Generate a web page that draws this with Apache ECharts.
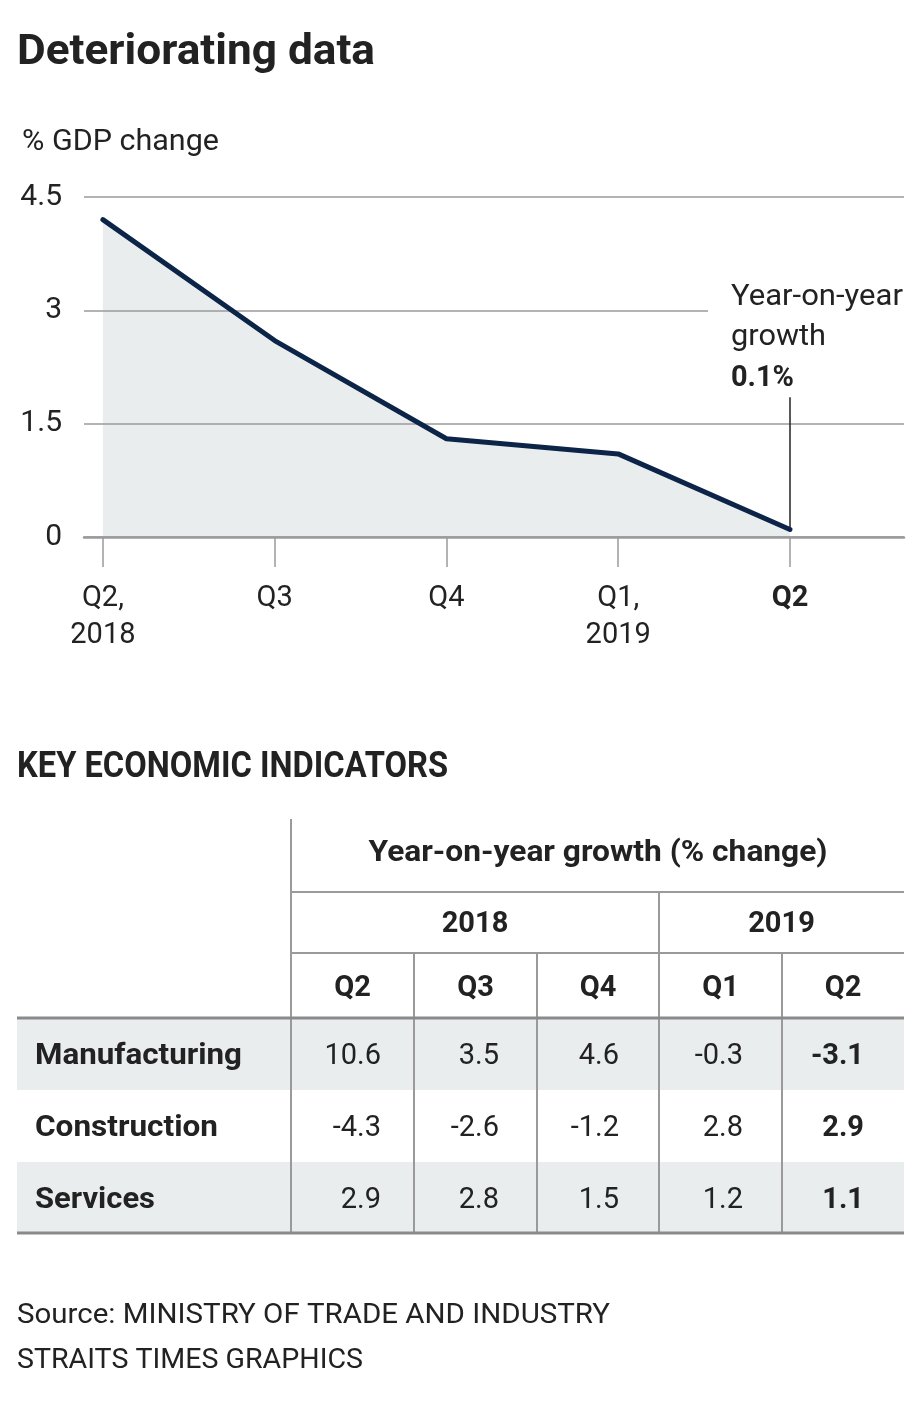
<!DOCTYPE html>
<html>
<head>
<meta charset="utf-8">
<script src="https://cdn.jsdelivr.net/npm/echarts@6/dist/echarts.min.js"></script>
<style>
  html, body { margin: 0; padding: 0; background: #fff; }
  #chart { width: 920px; height: 1404px; }
</style>
</head>
<body>
<div id="chart"></div>
<script>
// ---------- DATA ----------
const categories = ['Q2,\n2018', 'Q3', 'Q4', 'Q1,\n2019', 'Q2'];
const gdpGrowth = [4.2, 2.6, 1.3, 1.1, 0.1];
const yTicks = [0, 1.5, 3, 4.5];
const annotationLines = ['Year-on-year', 'growth', '0.1%'];

const tableYears = ['2018', '2019'];
const tableQuarters = ['Q2', 'Q3', 'Q4', 'Q1', 'Q2'];
const tableRows = ['Manufacturing', 'Construction', 'Services'];
const manufacturing = [10.6, 3.5, 4.6, -0.3, -3.1];
const construction = [-4.3, -2.6, -1.2, 2.8, 2.9];
const services = [2.9, 2.8, 1.5, 1.2, 1.1];
const sourceLines = ['Source: MINISTRY OF TRADE AND INDUSTRY', 'STRAITS TIMES GRAPHICS'];

// ---------- LAYOUT / STYLE ----------
const FONT = 'Roboto, "Noto Sans", sans-serif';
const TXT = '#222222';
const GRID = '#9a9a9a';
const YOFF = 3;
const measureCtx = document.createElement('canvas').getContext('2d');
function fitScale(text, weight, size, target) {
  measureCtx.font = weight + ' ' + size + 'px Roboto';
  const w = measureCtx.measureText(text).width;
  return w > 0 ? target / w : 1;
}
function textEl(text, x, y, opt) {
  opt = opt || {};
  const weight = opt.weight || 'normal';
  const size = opt.size || 28;
  const sx = opt.width ? fitScale(text, weight, size, opt.width) : 1;
  return {
    type: 'text', x: x, y: y + YOFF, scaleX: sx, scaleY: 1, z: 100,
    style: {
      text: text, x: 0, y: 0,
      fill: opt.color || TXT,
      font: weight + ' ' + size + 'px ' + FONT,
      textAlign: opt.align || 'left',
      textVerticalAlign: 'middle'
    }
  };
}
function lineEl(x1, y1, x2, y2, w, c) {
  return { type: 'line', z: 100, shape: { x1: x1, y1: y1, x2: x2, y2: y2 },
           style: { stroke: c || GRID, lineWidth: w || 2 } };
}
function rectEl(x, y, w, h, fill) {
  return { type: 'rect', z: 90, shape: { x: x, y: y, width: w, height: h }, style: { fill: fill } };
}

const graphics = [];
// Titles
graphics.push(textEl('Deteriorating data', 17, 50, { weight: 'bold', size: 42, width: 358 }));
graphics.push(textEl('% GDP change', 22, 140, { size: 29, width: 197 }));
// cover gridline behind annotation
graphics.push(rectEl(708, 307, 210, 7, '#ffffff'));
// annotation text
graphics.push(textEl(annotationLines[0], 731, 294, { size: 30, width: 172 }));
graphics.push(textEl(annotationLines[1], 731, 334, { size: 30, width: 95 }));
graphics.push(textEl(annotationLines[2], 731, 375, { size: 30, weight: 'bold', width: 63 }));

// ---------- TABLE ----------
graphics.push(textEl('KEY ECONOMIC INDICATORS', 17, 765, { weight: 'bold', size: 36, width: 431 }));
const colX = [291, 414, 537, 659, 782, 904];
const valueRightX = [381, 499, 619, 743, 864];
const tLeft = 17;
const rowY = [1018, 1090, 1162, 1233];
const tableData = [manufacturing, construction, services];
// row backgrounds
tableRows.forEach(function (r, i) {
  if (i % 2 === 0) graphics.push(rectEl(tLeft, rowY[i], colX[5] - tLeft, rowY[i + 1] - rowY[i], '#e9edee'));
});
// lines
graphics.push(lineEl(291, 819, 291, 1233, 2));
graphics.push(lineEl(291, 892, 904, 892, 2));
graphics.push(lineEl(659, 892, 659, 1233, 2));
graphics.push(lineEl(291, 953, 904, 953, 2));
[414, 537, 782].forEach(function (x) { graphics.push(lineEl(x, 953, x, 1233, 2)); });
graphics.push(lineEl(tLeft, 1018, 904, 1018, 3, '#8a8a8a'));
graphics.push(lineEl(tLeft, 1233, 904, 1233, 3, '#8a8a8a'));
// header texts
graphics.push(textEl('Year-on-year growth (% change)', 598, 851, { weight: 'bold', size: 29, align: 'center', width: 459 }));
graphics.push(textEl(tableYears[0], (colX[0] + colX[3]) / 2, 922, { weight: 'bold', size: 29, align: 'center' }));
graphics.push(textEl(tableYears[1], (colX[3] + colX[5]) / 2, 922, { weight: 'bold', size: 29, align: 'center' }));
tableQuarters.forEach(function (q, j) {
  graphics.push(textEl(q, (colX[j] + colX[j + 1]) / 2, 986, { weight: 'bold', size: 29, align: 'center' }));
});
const labelWidths = [207, 183, 120];
tableRows.forEach(function (r, i) {
  const cy = (rowY[i] + rowY[i + 1]) / 2;
  graphics.push(textEl(r, 35, cy, { weight: 'bold', size: 29, width: labelWidths[i] }));
  tableData[i].forEach(function (v, j) {
    graphics.push(textEl(v.toFixed(1), valueRightX[j], cy, { size: 29, align: 'right', weight: j === 4 ? 'bold' : 'normal' }));
  });
});
// source
graphics.push(textEl(sourceLines[0], 17, 1313, { size: 28, width: 593 }));
graphics.push(textEl(sourceLines[1], 17, 1358, { size: 28, width: 346 }));

// ---------- CHART ----------
const chart = echarts.init(document.getElementById('chart'), null, { renderer: 'canvas' });
const idx = categories.map(function (c, i) { return i; });
const points = gdpGrowth.map(function (v, i) { return [i, v]; });
chart.setOption({
  animation: false,
  backgroundColor: '#ffffff',
  grid: { left: 84, right: 16, top: 197, bottom: 867, outerBoundsMode: 'none', containLabel: false },
  xAxis: {
    type: 'value', min: -0.11, max: 4.664, z: 3,
    splitLine: { show: false },
    axisLine: { show: true, onZero: false, lineStyle: { color: GRID, width: 2.5 } },
    axisTick: { show: true, customValues: idx, length: 30, lineStyle: { color: GRID, width: 1.5 } },
    axisLabel: {
      customValues: idx, margin: 43, color: TXT, fontFamily: FONT, fontSize: 29, lineHeight: 37,
      formatter: function (v) {
        const i = Math.round(v);
        if (i === categories.length - 1) return '{b|' + categories[i] + '}';
        return categories[i];
      },
      rich: { b: { fontWeight: 'bold', fontSize: 29, fontFamily: FONT, color: TXT, lineHeight: 37 } }
    }
  },
  yAxis: {
    type: 'value', min: yTicks[0], max: yTicks[yTicks.length - 1], interval: 1.5, z: 3,
    axisLine: { show: false }, axisTick: { show: false },
    axisLabel: { margin: 22, color: TXT, fontFamily: FONT, fontSize: 30, padding: [6, 0, 0, 0],
                 formatter: function (v) { return String(v); } },
    splitLine: { show: true, lineStyle: { color: GRID, width: 1.5 } }
  },
  series: [{
    type: 'line',
    data: points,
    showSymbol: false,
    lineStyle: { width: 0 },
    areaStyle: { color: '#e9edee', opacity: 1, origin: 'start' },
    z: 1, silent: true
  }, {
    type: 'line',
    data: points,
    showSymbol: false,
    lineStyle: { color: '#0c2447', width: 5, join: 'round', cap: 'round' },
    z: 5,
    markLine: {
      silent: true, symbol: 'none', label: { show: false },
      lineStyle: { color: '#222', width: 1.5, type: 'solid' },
      data: [[{ coord: [4, gdpGrowth[4]] }, { coord: [4, 1.85] }]]
    }
  }],
  graphic: { elements: graphics }
});
</script>
</body>
</html>
